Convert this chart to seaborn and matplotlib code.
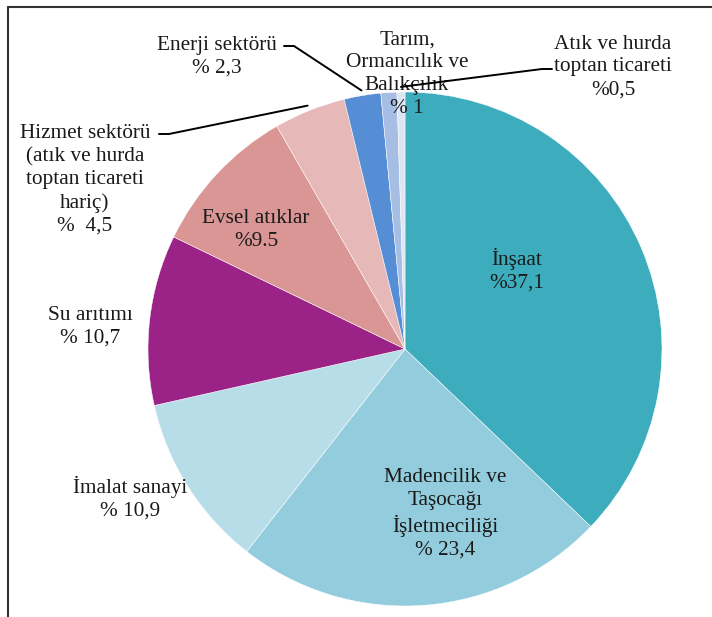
import numpy as np
import matplotlib
matplotlib.use("Agg")
import matplotlib.pyplot as plt
import seaborn as sns

# ---- veri ----
kategoriler = ["İnşaat", "Madencilik ve\nTaşocağı\nİşletmeciliği", "İmalat sanayi",
               "Su arıtımı", "Evsel atıklar",
               "Hizmet sektörü\n(atık ve hurda\ntoptan ticareti\nhariç)",
               "Enerji sektörü", "Tarım,\nOrmancılık ve\nBalıkçılık",
               "Atık ve hurda\ntoptan ticareti"]
degerler = [37.1, 23.4, 10.9, 10.7, 9.5, 4.5, 2.3, 1.0, 0.5]
yuzde_yazi = ["%37,1", "% 23,4", "% 10,9", "% 10,7", "%9.5", "%  4,5", "% 2,3", "% 1", "%0,5"]
renkler = ["#3DADBD", "#93CDDD", "#B7DEE8", "#9B2387", "#D99694",
           "#E6B9B8", "#558ED5", "#A6BEE4", "#DCE6F2"]

# etiket konumlari (piksel, ust sol kose referansli)
etiket_yer = [(517, 270), (445, 514), (130, 498), (90, 327), (256, 230),
              (85, 180), (217, 57), (407, 74), (613, 67)]
# lider cizgisi baslangici (yazinin yanindan)
lider = {5: (159, 134), 6: (284, 46), 8: (552, 69)}

W, H = 712, 617
MERKEZ = (405, 349)
R = 257


def main():
    sns.set_theme(style="white")
    plt.rcParams['font.family'] = ['Liberation Serif', 'DejaVu Serif']

    fig = plt.figure(figsize=(W / 100, H / 100), dpi=100)
    ax = fig.add_axes([0, 0, 1, 1])

    cx, cy = MERKEZ[0], H - MERKEZ[1]
    wedges, _ = ax.pie(degerler, colors=renkler, startangle=90, counterclock=False,
                       center=(cx, cy), radius=R, frame=True,
                       wedgeprops=dict(edgecolor='white', linewidth=0.35))
    ax.set_xlim(0, W)
    ax.set_ylim(0, H)
    ax.set_aspect('equal')
    ax.axis('off')

    # etiketler
    for i, (kat, yz) in enumerate(zip(kategoriler, yuzde_yazi)):
        x, y = etiket_yer[i]
        ax.text(x, H - y, kat + "\n" + yz, ha='center', va='center',
                fontsize=15.3, color='#1a1a1a', linespacing=1.27, zorder=5)

    # lider cizgileri: dilimin orta acisina
    for i, (sx, sy) in lider.items():
        w = wedges[i]
        aci = np.deg2rad((w.theta1 + w.theta2) / 2)
        ex = cx + R * 1.02 * np.cos(aci)
        ey = cy + R * 1.02 * np.sin(aci)
        if sx < ex:
            xs = [sx, sx + 10, ex]
        else:
            xs = [sx, sx - 10, ex]
        ys = [H - sy, H - sy, ey]
        ax.plot(xs, ys, color='black', lw=1.4, zorder=6)

    # cerceve (ust ve sol)
    ax.plot([8, W], [H - 7, H - 7], color='#333333', lw=1.5)
    ax.plot([8, 8], [0, H - 7], color='#333333', lw=1.5)

    fig.savefig("out.png", dpi=100)


if __name__ == "__main__":
    main()
